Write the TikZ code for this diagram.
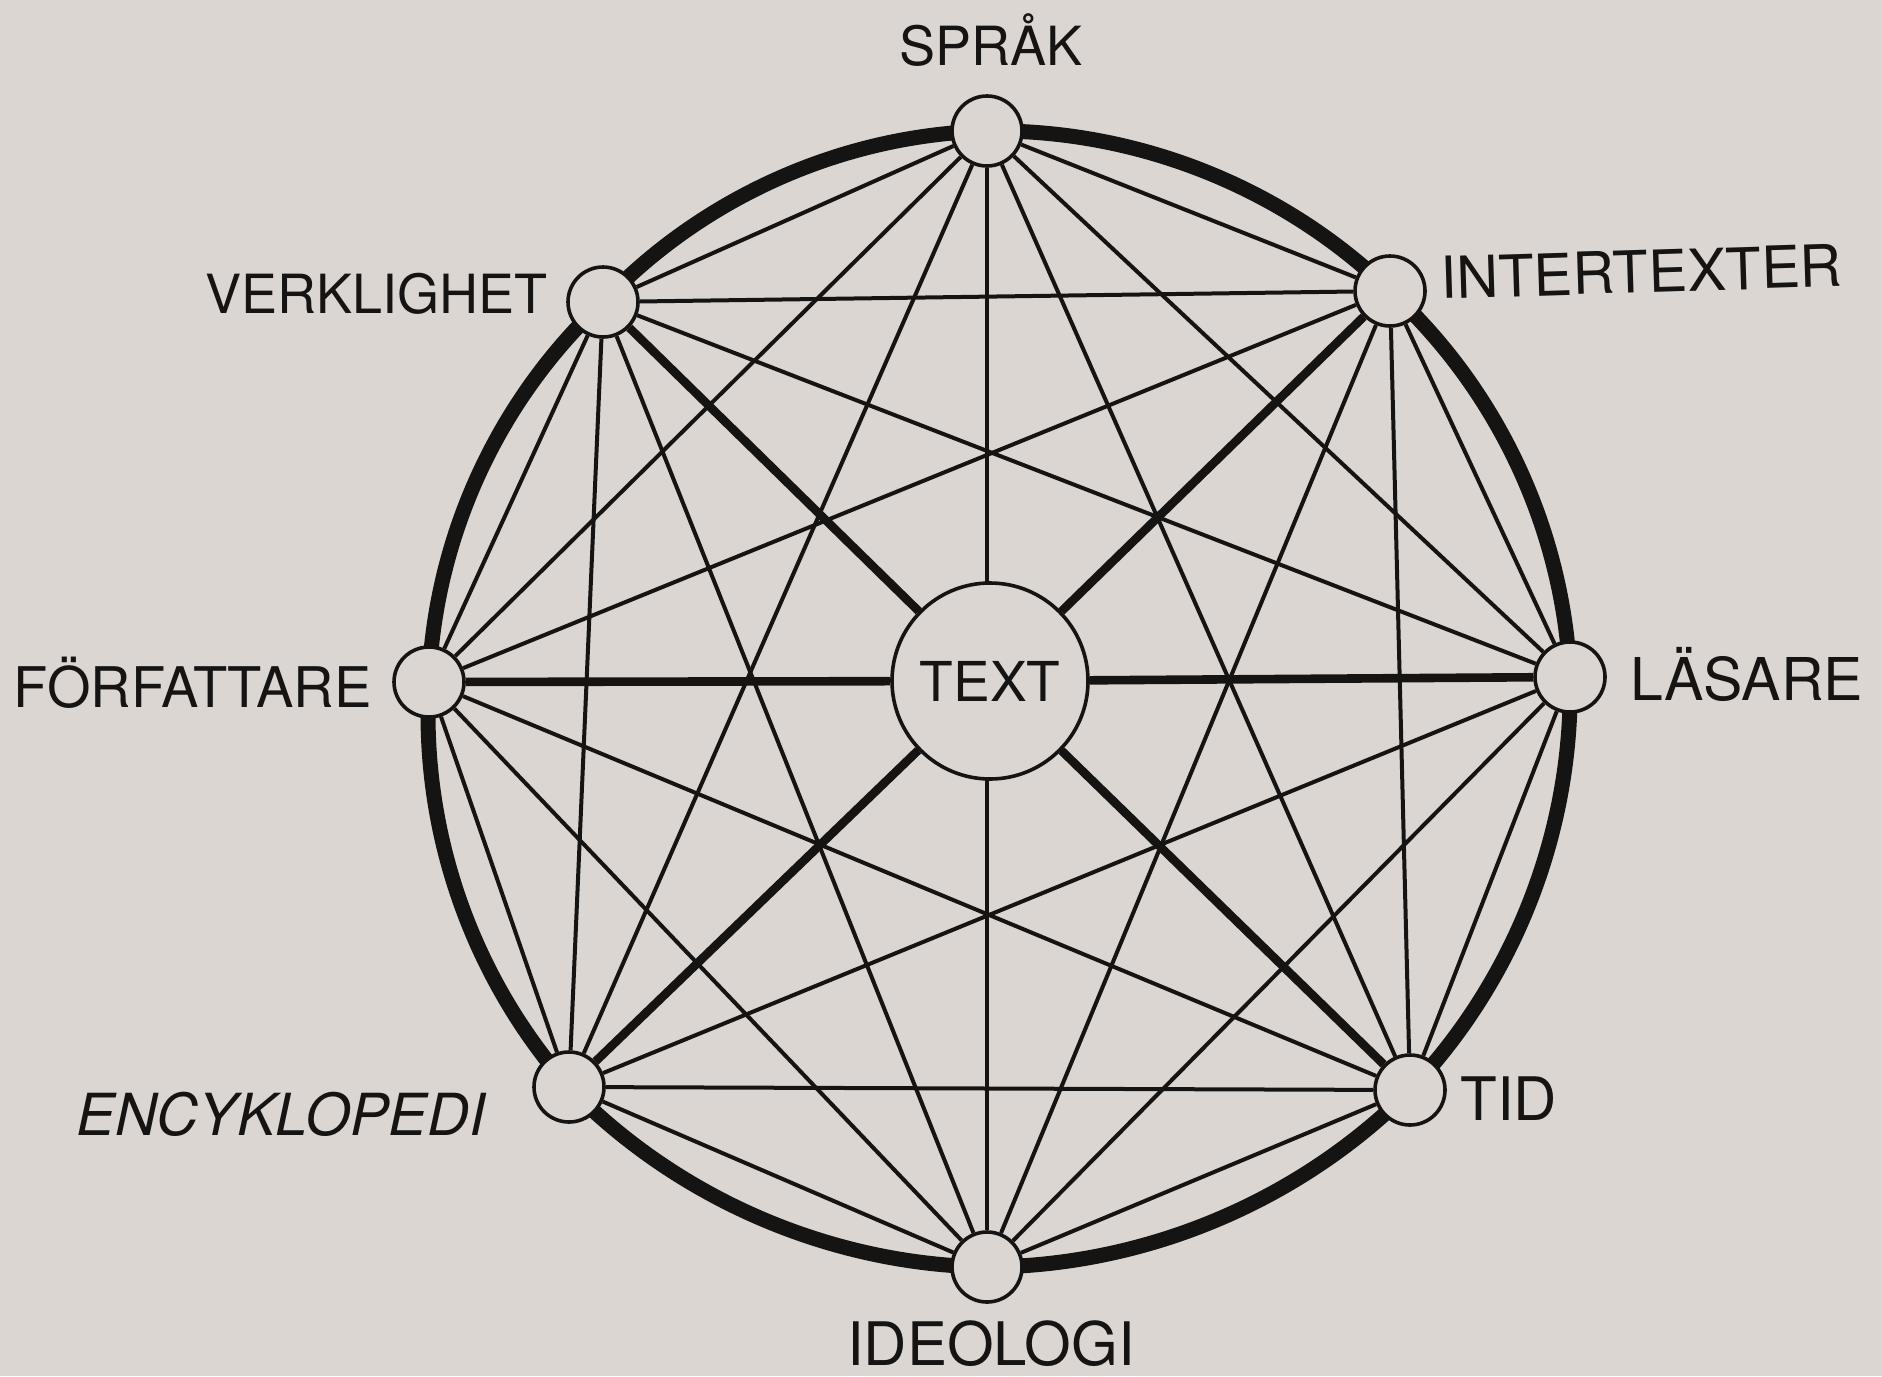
\documentclass[tikz,border=0pt]{standalone}
\usepackage{fontspec}
\setmainfont{TeX Gyre Heros}
\newcommand\labsize[1]{\fontsize{#1}{#1}\selectfont}
\definecolor{paper}{RGB}{219,214,209}
\definecolor{ink}{RGB}{22,19,19}
\pgfdeclarelayer{paperlayer}
\pgfdeclarelayer{lines}
\pgfsetlayers{paperlayer,lines,main}
\tikzset{
  dot/.style={circle,draw=ink,line width=1.8pt,fill=paper,minimum size=35pt,inner sep=0pt},
  hub/.style={circle,draw=ink,line width=1.8pt,fill=paper,minimum size=98pt,inner sep=0pt,text=ink},
  lab/.style={inner sep=0pt,text=ink},
  thinedge/.style={draw=ink,line width=2pt},
  spoke/.style={draw=ink,line width=4.3pt},
  ring/.style={draw=ink,line width=7.5pt},
}
\begin{document}
\begin{tikzpicture}[x=0.5pt,y=-0.5pt]
\useasboundingbox (0,0) rectangle (1882,1376);
\begin{pgfonlayer}{paperlayer}
\fill[paper] (0,0) rectangle (1882,1376);
\end{pgfonlayer}
% outer nodes
\node[dot] (sp) at (987,131) {};
\node[dot] (in) at (1390,291) {};
\node[dot] (la) at (1570,677) {};
\node[dot] (ti) at (1410,1090) {};
\node[dot] (id) at (987,1267) {};
\node[dot] (en) at (569,1087) {};
\node[dot] (fo) at (429,682) {};
\node[dot] (ve) at (603,302) {};
% centre
\node[hub] (tx) at (990,681) {\labsize{27.5pt}TEXT};
% labels
\node[lab,anchor=base] (lsp) at (991,65) {\labsize{27pt}SPRÅK};
\node[lab,anchor=base west,rotate=1.8] (lin) at (1441,299) {\labsize{29pt}INTERTEXTER};
\node[lab,anchor=base west] (lla) at (1630,700) {\labsize{29.5pt}LÄSARE};
\node[lab,anchor=base west] (lti) at (1460,1120) {\labsize{30pt}TID};
\node[lab,anchor=base] (lid) at (991,1365) {\labsize{30pt}IDEOLOGI};
\node[lab,anchor=base east] (len) at (486,1135) {\labsize{29pt}\itshape ENCYKLOPEDI};
\node[lab,anchor=base east] (lfo) at (372,707) {\labsize{28pt}FÖRFATTARE};
\node[lab,anchor=base east] (lve) at (548,313) {\labsize{27pt}VERKLIGHET};
\begin{pgfonlayer}{lines}
% ring through the outer nodes
\draw[ring] (sp.center) to[bend left=22.5,looseness=0.88] (in.center)
  to[bend left=22.5,looseness=0.88] (la.center)
  to[bend left=22.5,looseness=0.88] (ti.center)
  to[bend left=22.5,looseness=0.88] (id.center)
  to[bend left=22.5,looseness=0.88] (en.center)
  to[bend left=22.5,looseness=0.88] (fo.center)
  to[bend left=22.5,looseness=0.88] (ve.center)
  to[bend left=22.5,looseness=0.88] (sp.center);
% every pair of outer nodes
\foreach \a [count=\i] in {sp,in,la,ti,id,en,fo,ve}{
  \foreach \b [count=\j] in {sp,in,la,ti,id,en,fo,ve}{
    \ifnum\i<\j \draw[thinedge] (\a) -- (\b); \fi
  }
}
% thick spokes to TEXT
\foreach \a in {in,la,ti,en,fo,ve}{
  \draw[spoke] (\a) -- (tx);
}
\end{pgfonlayer}
\end{tikzpicture}
\end{document}
